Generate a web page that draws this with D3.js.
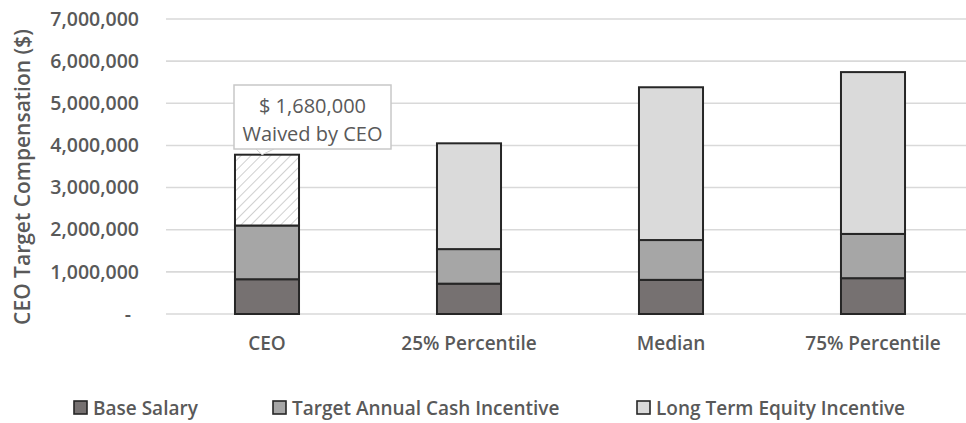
<!DOCTYPE html>
<html>
<head>
<meta charset="utf-8">
<script src="https://cdn.jsdelivr.net/npm/d3@7/dist/d3.min.js"></script>
<style>
  html, body { margin: 0; padding: 0; background: #ffffff; }
  svg { display: block; }
  text { font-family: "Open Sans", "Liberation Sans", sans-serif; fill: #595959; }
</style>
</head>
<body>
<svg id="chart" width="966" height="423"></svg>
<script>
// Target compensation by component
const categories = ["CEO", "25% Percentile", "Median", "75% Percentile"];
const baseSalary = [825000, 720000, 810000, 850000];
const cashIncentive = [1275000, 820000, 945000, 1050000];
const equityIncentive = [1680000, 2510000, 3625000, 3840000];
const seriesNames = ["Base Salary", "Target Annual Cash Incentive", "Long Term Equity Incentive"];
const yTicks = [0, 1000000, 2000000, 3000000, 4000000, 5000000, 6000000, 7000000];
const waivedAmount = 1680000;
const waivedLines = ["$ 1,680,000", "Waived by CEO"];
const yTitle = "CEO Target Compensation ($)";

const svg = d3.select("#chart");
const W = 966, H = 423;
const plot = { left: 166, right: 974, top: 19, bottom: 314 };

const x = d3.scaleBand()
  .domain(categories)
  .range([plot.left, plot.right])
  .paddingInner(0.683)
  .paddingOuter(0.683 / 2);

const y = d3.scaleLinear()
  .domain([0, 7000000])
  .range([plot.bottom, plot.top]);

const colors = ["#767171", "#a6a6a6", "#dadada"];

// hatch pattern for the waived equity grant
const defs = svg.append("defs");
const pat = defs.append("pattern")
  .attr("id", "hatch")
  .attr("patternUnits", "userSpaceOnUse")
  .attr("width", 7).attr("height", 7)
  .attr("patternTransform", "rotate(45)");
pat.append("rect").attr("width", 7).attr("height", 7).attr("fill", "#ffffff");
pat.append("line")
  .attr("x1", 0).attr("y1", 0).attr("x2", 0).attr("y2", 7)
  .attr("stroke", "#c4c4c4").attr("stroke-width", 1.6);

// gridlines
const grid = svg.append("g");
grid.selectAll("line")
  .data(yTicks)
  .join("line")
  .attr("x1", plot.left).attr("x2", W)
  .attr("y1", d => y(d)).attr("y2", d => y(d))
  .attr("stroke", "#d9d9d9").attr("stroke-width", 1.6);

// y axis labels
const fmt = d3.format(",");
const yAxis = d3.axisLeft(y)
  .tickValues(yTicks)
  .tickSize(0)
  .tickPadding(0)
  .tickFormat(d => d === 0 ? "-" : fmt(d));
const yg = svg.append("g")
  .attr("transform", `translate(139,0)`)
  .call(yAxis);
yg.select(".domain").remove();
yg.selectAll("text")
  .attr("font-size", 19.5)
  .attr("font-weight", 600)
  .attr("fill", "#595959")
  .attr("font-family", "'Open Sans', sans-serif")
  .attr("dx", d => d === 0 ? -8 : 0);

// y title
svg.append("text")
  .attr("transform", `translate(22,177) rotate(-90)`)
  .attr("text-anchor", "middle")
  .attr("dominant-baseline", "central")
  .attr("font-size", 21)
  .attr("font-weight", 600)
  .text(yTitle);

// stacked data
const rows = categories.map((c, i) => ({
  cat: c,
  segs: [
    { k: 0, y0: 0, y1: baseSalary[i] },
    { k: 1, y0: baseSalary[i], y1: baseSalary[i] + cashIncentive[i] },
    { k: 2, y0: baseSalary[i] + cashIncentive[i], y1: baseSalary[i] + cashIncentive[i] + equityIncentive[i] }
  ]
}));

const bars = svg.append("g");
rows.forEach((r, i) => {
  bars.selectAll(null)
    .data(r.segs)
    .join("rect")
    .attr("x", x(r.cat))
    .attr("width", x.bandwidth())
    .attr("y", d => y(d.y1))
    .attr("height", d => y(d.y0) - y(d.y1))
    .attr("fill", d => (i === 0 && d.k === 2) ? "url(#hatch)" : colors[d.k])
    .attr("stroke", "#262626")
    .attr("stroke-width", 2);
});

// x category labels
const xAxis = d3.axisBottom(x).tickSize(0).tickPadding(0);
const xg = svg.append("g")
  .attr("transform", `translate(0,343)`)
  .call(xAxis);
xg.select(".domain").remove();
xg.selectAll("text")
  .attr("font-size", 19)
  .attr("font-weight", 600)
  .attr("fill", "#595959")
  .attr("font-family", "'Open Sans', sans-serif")
  .attr("dy", "0.35em")
  .attr("y", 0);

// callout for the waived grant
const ceoTop = y(baseSalary[0] + cashIncentive[0] + waivedAmount);
const box = { x: 234, y: 85, w: 157, h: 64 };
const callout = svg.append("g");
callout.append("path")
  .attr("d", `M${box.x + 22},${box.y + box.h} L${box.x + 28},${ceoTop} L${box.x + 40},${box.y + box.h}`)
  .attr("fill", "#ffffff").attr("stroke", "#d0d0d0").attr("stroke-width", 1);
callout.append("rect")
  .attr("x", box.x).attr("y", box.y).attr("width", box.w).attr("height", box.h)
  .attr("fill", "#ffffff").attr("stroke", "#c8c8c8").attr("stroke-width", 1.5);
callout.selectAll("text")
  .data(waivedLines)
  .join("text")
  .attr("x", box.x + box.w / 2)
  .attr("y", (d, i) => box.y + 20 + i * 28)
  .attr("text-anchor", "middle")
  .attr("dominant-baseline", "central")
  .attr("font-size", 20)
  .text(d => d);

// legend
const legendX = [74, 273, 637];
const legend = svg.append("g").attr("transform", "translate(0,408)");
const items = legend.selectAll("g")
  .data(seriesNames)
  .join("g")
  .attr("transform", (d, i) => `translate(${legendX[i]},0)`);
items.append("rect")
  .attr("x", 0).attr("y", -7).attr("width", 13).attr("height", 13)
  .attr("fill", (d, i) => colors[i])
  .attr("stroke", "#262626").attr("stroke-width", 1.6);
items.append("text")
  .attr("x", 19)
  .attr("dominant-baseline", "central")
  .attr("font-size", 19)
  .attr("font-weight", 600)
  .text(d => d);
</script>
</body>
</html>
